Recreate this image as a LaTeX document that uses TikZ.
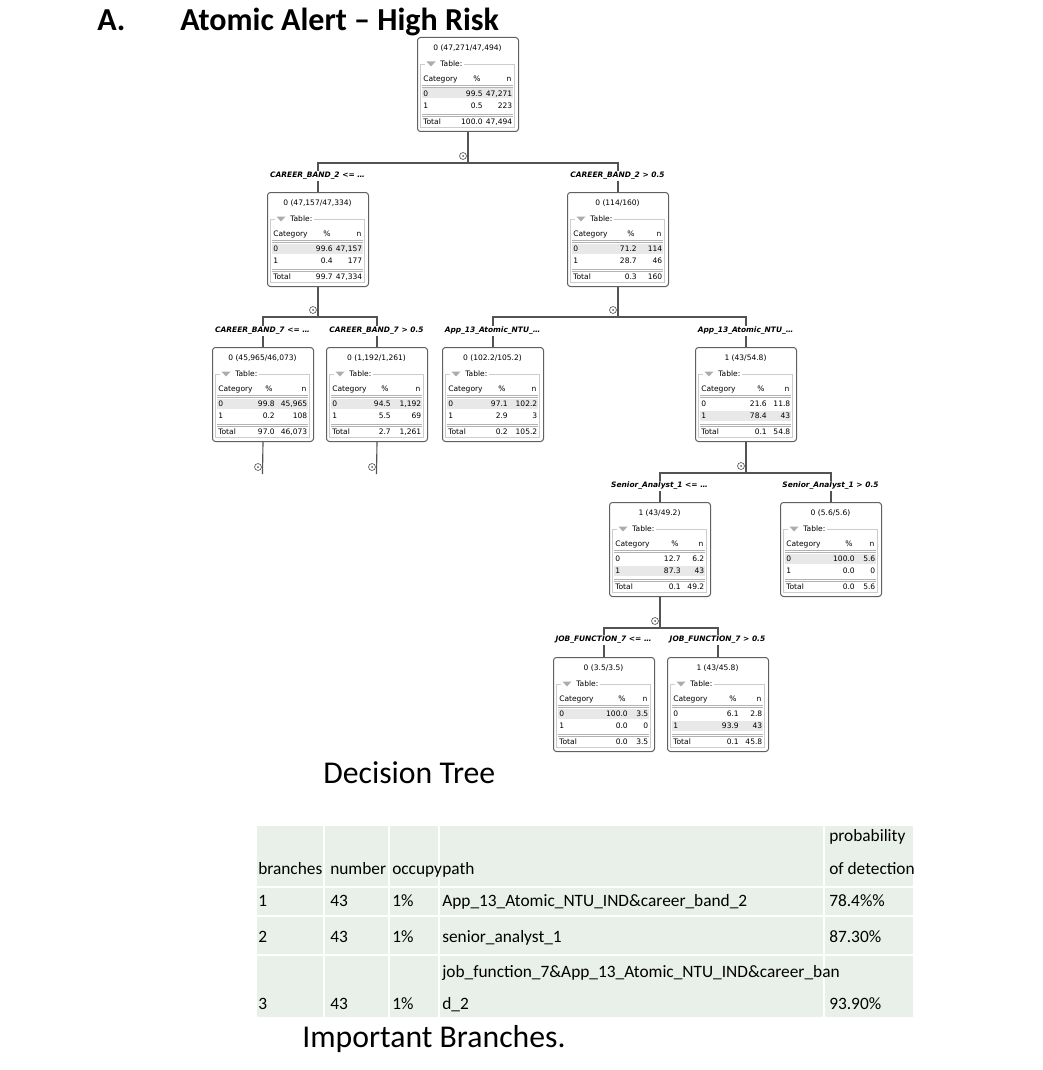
\documentclass[tikz,border=0pt]{standalone}
\usepackage{fontspec}
\newfontfamily\dvsans{DejaVu Sans}
\newfontfamily\carl{Carlito}
\definecolor{tabbg}{HTML}{E9F0EA}
\tikzset{
 x=0.75pt, y=-0.75pt,
 tbox/.style={draw=gray!75!black, line width=0.75pt, rounded corners=2.2pt, fill=white, minimum width=75.75pt, minimum height=70.5pt, inner sep=0, anchor=north west},
 ttxt/.style={font=\dvsans\fontsize{5.65}{6.5}\selectfont, inner sep=0},
 blabel/.style={font=\dvsans\bfseries\itshape\fontsize{5.6}{6.5}\selectfont, fill=white, inner sep=1pt},
 conn/.style={draw=gray!65!black, line width=0.85pt},
 tframe/.style={draw=gray!40, line width=0.45pt},
 dline/.style={draw=gray!60, line width=0.4pt},
 hl/.style={fill=gray!18},
 marker/.style={circle, draw=gray!70!black, line width=0.5pt, minimum size=5.2pt, inner sep=0, fill=white},
 ctxt/.style={font=\carl\fontsize{13}{15}\selectfont, inner sep=0, anchor=base west},
 big/.style={font=\carl\fontsize{23.8}{28}\selectfont, inner sep=0, anchor=base west},
}
\def\trowi#1#2#3#4#5/#6\relax{%
  \node[ttxt,anchor=mid west] (#1c) at (6,#2) {#3};
  \node[ttxt,anchor=mid east] (#1p) at (#4,#2) {#5};
  \node[ttxt,anchor=mid east] (#1n) at (95.5,#2) {#6};}
\newcommand\trow[5]{\trowi{#1}{#2}{#3}{#4}#5\relax}
\newcommand\tnode[9]{%
 \begin{scope}[shift={(#2,#3)}]
  \node[tbox] (#1) at (0,0) {};
  \ifnum#6=0\relax
    \fill[hl] (5,51.5) rectangle (96,61.5);
  \else
    \fill[hl] (5,64) rectangle (96,74);
  \fi
  \node[ttxt] (#1-ti) at (50.5,11) {#4};
  \fill[gray!65] (9.5,24.5) -- (18.5,24.5) -- (14,29.5) -- cycle;
  \node[ttxt,anchor=mid west] (#1-tl) at (23,27) {Table:};
  \draw[tframe] (#1-tl.mid east) ++(1.5,0) -- (97.5,27) -- (97.5,90) -- (3.5,90) -- (3.5,27) -- (7.5,27);
  \node[ttxt,anchor=mid west] (#1-hc) at (6,42) {Category};
  \node[ttxt] (#1-hp) at ({#5-6},42) {\%};
  \node[ttxt] (#1-hn) at (92,42) {n};
  \draw[dline] (5,48) -- (96,48) (5,50) -- (96,50) (5,77) -- (96,77) (5,79) -- (96,79);
  \trow{#1-a}{56.5}{0}{#5}{#7}
  \trow{#1-b}{69}{1}{#5}{#8}
  \trow{#1-t}{84.5}{Total}{#5}{#9}
 \end{scope}}
\begin{document}
\begin{tikzpicture}
\fill[white] (0,0) rectangle (1042,1070);
\useasboundingbox (0,0) rectangle (1042,1070);

% headings
\node[big,font=\carl\bfseries\fontsize{24}{28}\selectfont] (hA) at (97,31) {A.};
\node[big,font=\carl\bfseries\fontsize{24}{28}\selectfont] (hT) at (180,31) {Atomic Alert – High Risk};
\node[big] (hD) at (323,783) {Decision Tree};
\node[big] (hI) at (302,1047) {Important Branches.};

% tree boxes
\tnode{root}{417}{37}{0 (47,271/47,494)}{66}{0}{99.5/47,271}{0.5/223}{100.0/47,494}
\tnode{l1l}{267}{192}{0 (47,157/47,334)}{66}{0}{99.6/47,157}{0.4/177}{99.7/47,334}
\tnode{l1r}{567}{192}{0 (114/160)}{70}{0}{71.2/114}{28.7/46}{0.3/160}
\tnode{cb7a}{212}{347}{0 (45,965/46,073)}{63}{0}{99.8/45,965}{0.2/108}{97.0/46,073}
\tnode{cb7b}{326}{347}{0 (1,192/1,261)}{65}{0}{94.5/1,192}{5.5/69}{2.7/1,261}
\tnode{appa}{442}{347}{0 (102.2/105.2)}{66}{0}{97.1/102.2}{2.9/3}{0.2/105.2}
\tnode{appb}{695}{347}{1 (43/54.8)}{72}{1}{21.6/11.8}{78.4/43}{0.1/54.8}
\tnode{sena}{609}{502}{1 (43/49.2)}{72}{1}{12.7/6.2}{87.3/43}{0.1/49.2}
\tnode{senb}{780}{502}{0 (5.6/5.6)}{75}{0}{100.0/5.6}{0.0/0}{0.0/5.6}
\tnode{joba}{553}{657}{0 (3.5/3.5)}{75}{0}{100.0/3.5}{0.0/0}{0.0/3.5}
\tnode{jobb}{667}{657}{1 (43/45.8)}{72}{1}{6.1/2.8}{93.9/43}{0.1/45.8}

% connectors
\draw[conn] (root.south) -- ++(0,31) -| (l1l.north);
\draw[conn] (root.south) -- ++(0,31) -| (l1r.north);
\draw[conn] (l1l.south) -- ++(0,30) -| (cb7a.north);
\draw[conn] (l1l.south) -- ++(0,30) -| (cb7b.north);
\draw[conn] (l1r.south) -- ++(0,30) -| (appa.north);
\draw[conn] (l1r.south) -- ++(0,30) -| (appb.north);
\draw[conn] (appb.south) -- ++(0,31) -| (sena.north);
\draw[conn] (appb.south) -- ++(0,31) -| (senb.north);
\draw[conn] (sena.south) -- ++(0,31) -| (joba.north);
\draw[conn] (sena.south) -- ++(0,31) -| (jobb.north);
\coordinate (cb7aend) at (262.5,474);
\coordinate (cb7bend) at (376.5,474);
\draw[conn] (cb7a.south) -- (cb7aend);
\draw[conn] (cb7b.south) -- (cb7bend);

% collapse markers
\foreach \nm/\px/\py in {mroot/463/156, ml1l/313/310, ml1r/613/310, mappb/741/466, msena/655/621, mcb7a/258/467, mcb7b/372/467}{
  \node[marker] (\nm) at (\px,\py) {};
  \fill[gray!70!black] (\nm.center) circle (1);
}

% branch labels
\node[blabel] (lab-l1l) at (317.5,176) {CAREER\_BAND\_2 <= …};
\node[blabel] (lab-l1r) at (617.5,176) {CAREER\_BAND\_2 > 0.5};
\node[blabel] (lab-cb7a) at (262.5,331) {CAREER\_BAND\_7 <= …};
\node[blabel] (lab-cb7b) at (376.5,331) {CAREER\_BAND\_7 > 0.5};
\node[blabel] (lab-appa) at (492.5,331) {App\_13\_Atomic\_NTU\_…};
\node[blabel] (lab-appb) at (745.5,331) {App\_13\_Atomic\_NTU\_…};
\node[blabel] (lab-sena) at (659.5,486) {Senior\_Analyst\_1 <= …};
\node[blabel] (lab-senb) at (830.5,486) {Senior\_Analyst\_1 > 0.5};
\node[blabel] (lab-joba) at (603.5,640) {JOB\_FUNCTION\_7 <= …};
\node[blabel] (lab-jobb) at (717.5,640) {JOB\_FUNCTION\_7 > 0.5};

% table cells
\foreach \xa/\xb in {257/323, 325/388, 390/438, 440/823, 825/913}{
  \foreach \ya/\yb in {826/886, 888/915, 917/954, 956/1017}{
    \fill[tabbg] (\xa,\ya) rectangle (\xb,\yb);
  }
}
% table text
\node[ctxt] (t-h1) at (258,874) {branches};
\node[ctxt] (t-h2) at (330,874) {number};
\node[ctxt] (t-h3) at (392,874) {occupy};
\node[ctxt] (t-h4) at (442,874) {path};
\node[ctxt] (t-h5a) at (829,841) {probability};
\node[ctxt] (t-h5b) at (829,874) {of detection};
\node[ctxt] (t-r1a) at (258,906) {1};
\node[ctxt] (t-r1b) at (330,906) {43};
\node[ctxt] (t-r1c) at (392,906) {1\%};
\node[ctxt] (t-r1d) at (442,906) {App\_13\_Atomic\_NTU\_IND\&career\_band\_2};
\node[ctxt] (t-r1e) at (829,906) {78.4\%\%};
\node[ctxt] (t-r2a) at (258,942) {2};
\node[ctxt] (t-r2b) at (330,942) {43};
\node[ctxt] (t-r2c) at (392,942) {1\%};
\node[ctxt] (t-r2d) at (442,942) {senior\_analyst\_1};
\node[ctxt] (t-r2e) at (829,942) {87.30\%};
\node[ctxt] (t-r3d1) at (442,977) {job\_function\_7\&App\_13\_Atomic\_NTU\_IND\&career\_ban};
\node[ctxt] (t-r3a) at (258,1009) {3};
\node[ctxt] (t-r3b) at (330,1009) {43};
\node[ctxt] (t-r3c) at (392,1009) {1\%};
\node[ctxt] (t-r3d2) at (442,1009) {d\_2};
\node[ctxt] (t-r3e) at (829,1009) {93.90\%};
\end{tikzpicture}
\end{document}
